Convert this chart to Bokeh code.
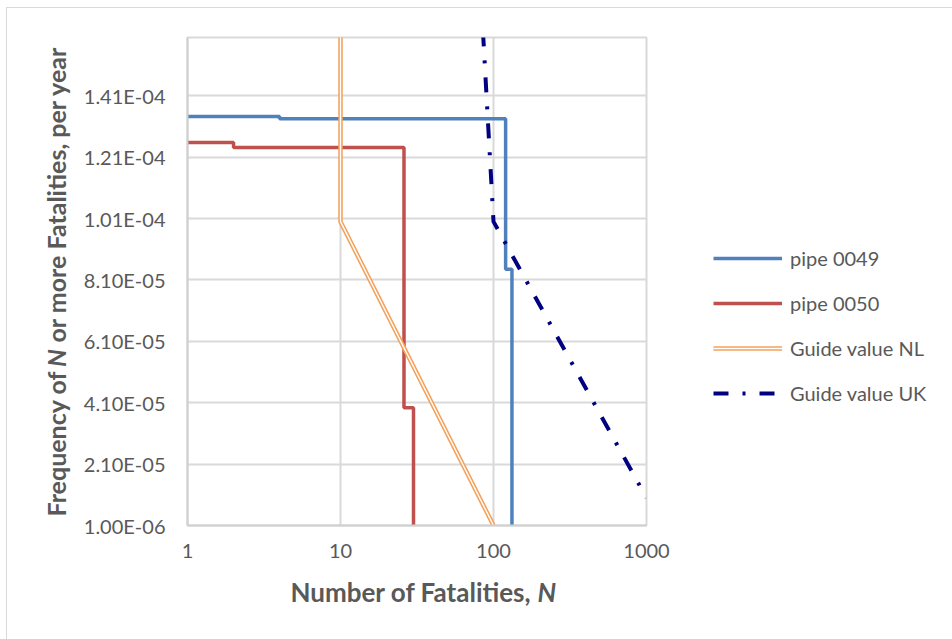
import math
from bokeh.plotting import figure
from bokeh.layouts import row
from bokeh.models import (Range1d, FixedTicker, CustomJSTickFormatter, Legend,
                          LegendItem, Label)
from bokeh.embed import file_html
from bokeh.resources import INLINE

# ---- data ----
N_0049 = [1, 4, 120, 132]
F_0049 = [1.343e-4, 1.335e-4, 8.45e-5, 1.0e-6]
N_0050 = [1, 2, 26, 30]
F_0050 = [1.258e-4, 1.242e-4, 3.94e-5, 1.0e-6]
N_NL = [10, 10, 100]
F_NL = [1.0e-3, 1.0e-4, 1.0e-6]
N_UK = [10, 100, 1000]
F_UK = [1.0e-3, 1.0e-4, 1.0e-5]

x_ticks = [1, 10, 100, 1000]
x_labels = ["1", "10", "100", "1000"]
y_ticks = [1.0e-6, 2.1e-5, 4.1e-5, 6.1e-5, 8.1e-5, 1.01e-4, 1.21e-4, 1.41e-4]
y_labels = ["1.00E-06", "2.10E-05", "4.10E-05", "6.10E-05", "8.10E-05",
            "1.01E-04", "1.21E-04", "1.41E-04"]
series_names = ["pipe 0049", "pipe 0050", "Guide value NL", "Guide value UK"]

FONT = "Lato"
TXT = "#595959"
GRID = "#D9D9D9"

STYLE = [
    dict(line_color="#4F81BD", line_width=3.5),
    dict(line_color="#C0504D", line_width=3.5),
    dict(line_color="#F4A15A", line_width=4.5),
    dict(line_color="#000080", line_width=4, line_dash="15 14 3 14"),
]
NL_INNER = dict(line_color="white", line_width=1.4)


def draw_series(fig):
    a = fig.step(N_0049, F_0049, mode="after", **STYLE[0])
    b = fig.step(N_0050, F_0050, mode="after", **STYLE[1])
    c1 = fig.line(N_NL, F_NL, **STYLE[2])
    c2 = fig.line(N_NL, F_NL, **NL_INNER)
    d = fig.line(N_UK, F_UK, **STYLE[3])
    return a, b, c1, c2, d


p = figure(width=705, height=631, x_axis_type="log",
           x_range=Range1d(1, 1000), y_range=Range1d(1.0e-6, 1.6e-4),
           output_backend="svg", toolbar_location=None,
           min_border_left=180, min_border_right=66,
           min_border_top=29, min_border_bottom=114)
p.background_fill_color = "white"
p.border_fill_color = "white"
p.outline_line_color = GRID
p.outline_line_width = 2

fmt_code = """
let best = 0;
for (let i = 0; i < tv.length; i++) {
  if (Math.abs(tv[i] - tick) < Math.abs(tv[best] - tick)) best = i;
}
return tl[best];
"""
p.xaxis.ticker = FixedTicker(ticks=x_ticks)
p.xaxis.formatter = CustomJSTickFormatter(args=dict(tv=x_ticks, tl=x_labels), code=fmt_code)
p.yaxis.ticker = FixedTicker(ticks=y_ticks)
p.yaxis.formatter = CustomJSTickFormatter(args=dict(tv=y_ticks, tl=y_labels), code=fmt_code)

for ax in (p.xaxis, p.yaxis):
    ax.major_tick_in = 0
    ax.major_tick_out = 0
    ax.minor_tick_in = 0
    ax.minor_tick_out = 0
    ax.axis_line_color = "#D0D0D0"
    ax.axis_line_width = 2
    ax.major_label_text_font = FONT
    ax.major_label_text_font_size = "20px"
    ax.major_label_text_color = TXT
p.xaxis.major_label_standoff = 18
p.yaxis.major_label_standoff = 22

p.xgrid.grid_line_color = GRID
p.ygrid.grid_line_color = GRID
p.xgrid.grid_line_width = 2
p.ygrid.grid_line_width = 2
p.xgrid.minor_grid_line_color = None
p.ygrid.minor_grid_line_color = None

draw_series(p)

# axis titles (with italic N), canvas coordinates of the main figure
xt_kw = dict(x_units="canvas", y_units="canvas", text_font=FONT,
             text_font_size="26px", text_color=TXT, text_baseline="alphabetic")
yt_kw = dict(xt_kw, text_font_size="25px")
p.add_layout(Label(x=283, y=583, text="Number of Fatalities, ", text_align="left",
                   text_font_style="bold", **xt_kw), "below")
p.add_layout(Label(x=530, y=583, text="N", text_align="left",
                   text_font_style="bold italic", **xt_kw), "below")
p.add_layout(Label(x=48, y=508, text="Frequency of ", text_align="left", angle=math.pi / 2,
                   text_font_style="bold", **yt_kw), "left")
p.add_layout(Label(x=48, y=358.5, text="N", text_align="left", angle=math.pi / 2,
                   text_font_style="bold italic", **yt_kw), "right")
p.add_layout(Label(x=48, y=334, text="or more Fatalities, per year", text_align="left",
                   angle=math.pi / 2, text_font_style="bold", **yt_kw), "right")

# legend panel: second figure beside the plot (series drawn outside its ranges)
p2 = figure(width=240, height=631, output_backend="svg", toolbar_location=None,
            x_range=Range1d(2000, 3000), y_range=Range1d(0, 1),
            x_axis_location=None, y_axis_location=None, min_border=0)
p2.grid.visible = False
p2.outline_line_color = None
p2.background_fill_color = "white"
p2.border_fill_color = "white"
l1, l2, l3a, l3b, l4 = draw_series(p2)

legend = Legend(items=[
    LegendItem(label=series_names[0], renderers=[l1]),
    LegendItem(label=series_names[1], renderers=[l2]),
    LegendItem(label=series_names[2], renderers=[l3a, l3b]),
    LegendItem(label=series_names[3], renderers=[l4]),
], location=(1, 120))
legend.padding = 0
legend.margin = 0
legend.border_line_alpha = 0
legend.background_fill_alpha = 0
legend.glyph_width = 69
legend.glyph_height = 20
legend.label_height = 20
legend.spacing = 21
legend.label_standoff = 8
legend.label_text_font = FONT
legend.label_text_font_size = "20px"
legend.label_text_color = TXT
p2.add_layout(legend)

layout = row(p, p2, styles={"margin-left": "6px", "margin-top": "7px",
                            "border-left": "1px solid #D9D9D9",
                            "border-top": "1px solid #D9D9D9"})

open("out.html", "w").write(file_html(layout, INLINE))
